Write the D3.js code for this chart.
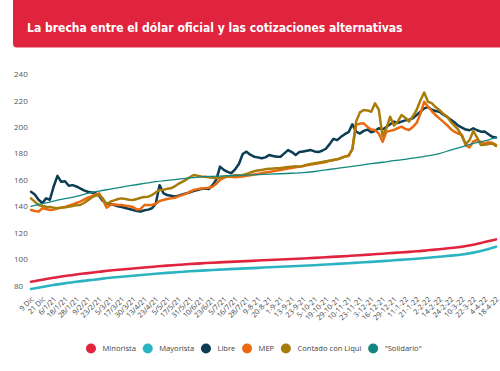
<!DOCTYPE html>
<html>
<head>
<meta charset="utf-8">
<script src="https://cdn.jsdelivr.net/npm/d3@7"></script>
<style>
  html, body { margin: 0; padding: 0; background: #fff; }
  svg { display: block; }
</style>
</head>
<body>
<svg id="chart" width="500" height="371"></svg>
<script>
// ---------- DATA ----------
const title = "La brecha entre el dólar oficial y las cotizaciones alternativas";

const dateLabels = ["9 Dic","21 Dic","6/1/21","18/1/21","28/1/21","9/2/21","23/2/21","5/3/21","17/3/21","30/3/21",
  "13/4/21","23/4/21","5/5/21","17/5/21","31/5/21","10/6/21","23/6/21","5/7/21","16/7/21","28/7/21",
  "9-8-21","20-8-21","1-9-21","13-9-21","23-9-21","5-10-21","19-10-21","29-10-21","10-11-21","23-11-21",
  "3-12-21","16-12-21","29-12-21","11-1-22","21-1-22","2-2-22","14-2-22","24-2-22","10-3-22","22-3-22",
  "4-4-22","18-4-22"];

const yTicks = [80,100,120,140,160,180,200,220,240];

const seriesNames = ["Minorista","Mayorista","Libre","MEP","Contado con Liqui","\"Solidario\""];
const seriesColors = ["#e0243e","#2bb3c2","#0c3d52","#ea6a10","#a87c0b","#13877f"];

// smooth series: one value per date label
const minorista = [83,84.5,86,87.3,88.5,89.5,90.5,91.5,92.3,93,93.8,94.5,95.2,95.8,96.4,96.9,97.4,97.8,98.2,98.6,
  99,99.4,99.8,100.2,100.6,101,101.5,102,102.5,103,103.6,104.2,104.8,105.4,106,106.8,107.6,108.5,109.5,111,113,115];
const mayorista = [77.5,79,80.5,81.8,83,84,85,86,86.8,87.5,88.3,89,89.7,90.3,90.9,91.4,91.9,92.3,92.7,93.1,
  93.5,93.9,94.3,94.7,95.1,95.5,96,96.5,97,97.5,98,98.6,99.2,99.8,100.4,101.1,101.9,102.7,103.6,105,107,109.5];
const solidario = [140,142,144,145.8,147.5,149.8,151.5,153,154.5,156,157.3,158.6,159.6,160.5,161.5,162.3,162.7,163,163.3,163.6,
  164,164.3,164.6,165,165.4,166.3,167.5,168.7,169.8,171,172.2,173.3,174.5,175.5,176.8,178.2,179.8,182.5,185,187.5,189.5,192];

// volatile series: three readings per label interval
const libre = [151,149,145,142.5,146,145,155,163,158.5,159,155.5,156,155,153.5,152,151,150.5,150,148,144,
  142.3,141.5,141,140,139.5,138.7,138,137.2,136.5,136,137,137.5,138.5,142,156,150,148.5,148,147.5,148,
  149,149.8,150.5,151.5,152.3,153,153.5,153,156,160,170,167.5,166,165,168,172,179.5,181.3,179,177.5,
  177,176.3,177,178.8,178,177.5,177.5,180,182.5,181,178.8,181,181.5,182,182.5,181.5,181,182,183.5,187,
  191,190,192.5,194.5,196,202,196.4,195,197,198,196,197,199,198,200,202,204,203,204,205,
  205.5,206.5,209,211.5,214,215,213,212,211.5,209.5,207.7,205.5,203.5,201,199.5,198,197.5,199,197.5,196.4,
  196.5,194.5,192.5,192];
const mep = [137.2,136.5,136,138.5,138,137.2,137.5,138.5,139,139.5,140.5,141.5,142.5,143.5,145,146.5,147.5,149,149.8,145,
  139,141,141.5,141,141,140.5,140,139.5,137.5,138,141,141,141,142,144,144.8,145.5,146,146.5,147.5,
  148.5,149.5,151,152.3,153,153.5,153.6,154,154.8,157,160,161.5,162.4,162.4,162,162.4,162.5,163,163.5,164,
  164.5,165,165.5,166,166.5,167,167.5,168,168.5,169,169.5,170,170.5,171,171.5,172,172.5,173,173.5,174.5,
  175,175.5,176.5,177.5,178,183,201.5,202.5,202.7,200,198,197.7,195,188.8,196.4,197,197.7,199,200.2,198.5,
  197.7,200,203,210,219,215.3,212,209,206.5,204,201.5,198.5,196.4,195,193.9,186,184.5,189,190.1,188.5,
  187.6,188.5,188,186.4];
const ccl = [146,143.5,141,140.2,139.7,139.5,139,138.5,139,139.3,139.7,140.2,140.8,141,142.5,144.5,146.5,148,148.6,146,
  141.5,143.5,144.5,145.5,146,145.5,145,144.8,145.5,146.5,147,147.3,148.5,150.5,152.3,152.5,153.2,153.6,155,157,
  158.5,160,162,163.7,163.2,162.5,162.4,162,161.5,161.2,161.5,162.4,162.5,163,163.5,163.5,163.7,164.5,165.5,166.5,
  167,167.5,168,168.3,168.5,168.8,169,169.3,169.7,170,170.3,170,170.5,171.5,172,172.5,173,173.5,174,174.5,
  175,175.5,176.5,177.5,178.5,183,204,211,212.8,212.5,211.5,217.8,213,193,199,207.7,201,204,209,207,
  204,208,212.8,220,226,219,218,215,212.8,210,208,204,201,198,193,187,190,197,192,186.4,
  186.5,187,187.5,185.6];

// ---------- LAYOUT ----------
const svg = d3.select("#chart");
const plot = { left: 31, right: 496, top: 74, bottom: 285.7 };
const perLabel = 3;
const nDaily = (dateLabels.length - 1) * perLabel + 1;

const x = d3.scaleLinear().domain([0, nDaily - 1]).range([plot.left, plot.right]);
const y = d3.scaleLinear().domain([80, 240]).range([plot.bottom, plot.top]);

// Title banner
svg.append("path")
  .attr("d", `M13,0 H500 V47.5 H17 Q13,47.5 13,43.5 Z`)
  .attr("fill", "#e0243e");
const titleText = svg.append("text")
  .attr("x", 27).attr("y", 31.5)
  .attr("fill", "#fff")
  .attr("font-family", "'Liberation Sans Narrow','DejaVu Sans Condensed','Roboto',sans-serif")
  .attr("font-weight", "bold")
  .attr("font-size", 16)
  .text(title);
// fit natural width to ~376px
const tw = titleText.node().getComputedTextLength();
titleText.attr("font-size", Math.min(17, 16 * 376 / tw));

// Y axis (labels only)
const yAxis = svg.append("g")
  .attr("transform", `translate(14,0)`)
  .call(d3.axisRight(y).tickValues(yTicks).tickSize(0).tickPadding(0));
yAxis.select(".domain").remove();
yAxis.selectAll("text")
  .attr("font-family", "'Open Sans',sans-serif")
  .attr("font-size", 8)
  .attr("fill", "#555");

// X axis (rotated labels only)
const xAxis = svg.append("g")
  .attr("transform", `translate(0,298)`)
  .call(d3.axisBottom(x)
    .tickValues(dateLabels.map((d, i) => i * perLabel))
    .tickFormat((d) => dateLabels[d / perLabel])
    .tickSize(0).tickPadding(0));
xAxis.select(".domain").remove();
xAxis.selectAll("text")
  .attr("font-family", "'Open Sans',sans-serif")
  .attr("font-size", 7.3)
  .attr("fill", "#444")
  .attr("text-anchor", "end")
  .attr("dy", "0.35em")
  .attr("transform", "translate(1,0) rotate(-45)");

// Lines
const lineDaily = d3.line().x((d, i) => x(i)).y((d) => y(d)).curve(d3.curveLinear);
const lineLabel = d3.line().x((d, i) => x(i * perLabel)).y((d) => y(d)).curve(d3.curveMonotoneX);

const series = [
  { values: minorista, gen: lineLabel, w: 2.6, color: seriesColors[0] },
  { values: mayorista, gen: lineLabel, w: 2.6, color: seriesColors[1] },
  { values: libre, gen: lineDaily, w: 2.5, color: seriesColors[2] },
  { values: mep, gen: lineDaily, w: 2.5, color: seriesColors[3] },
  { values: ccl, gen: lineDaily, w: 2.5, color: seriesColors[4] },
  { values: solidario, gen: lineLabel, w: 1.3, color: seriesColors[5] }
];
svg.append("g").selectAll("path")
  .data(series)
  .join("path")
  .attr("d", (s) => s.gen(s.values))
  .attr("fill", "none")
  .attr("stroke", (s) => s.color)
  .attr("stroke-width", (s) => s.w)
  .attr("stroke-linejoin", "round")
  .attr("stroke-linecap", "round");

// Legend
const legend = svg.append("g").attr("transform", "translate(0,348.5)");
let cx = 91;
seriesNames.forEach((name, i) => {
  const g = legend.append("g").attr("transform", `translate(${cx},0)`);
  g.append("circle").attr("r", 5).attr("fill", seriesColors[i]);
  const t = g.append("text")
    .attr("x", 11.5).attr("dy", "0.35em")
    .attr("font-family", "'Open Sans',sans-serif")
    .attr("font-size", 7.6)
    .attr("fill", "#444")
    .text(name);
  const w = t.node().getComputedTextLength();
  cx += 11.5 + w + 11.7;
});
</script>
</body>
</html>
